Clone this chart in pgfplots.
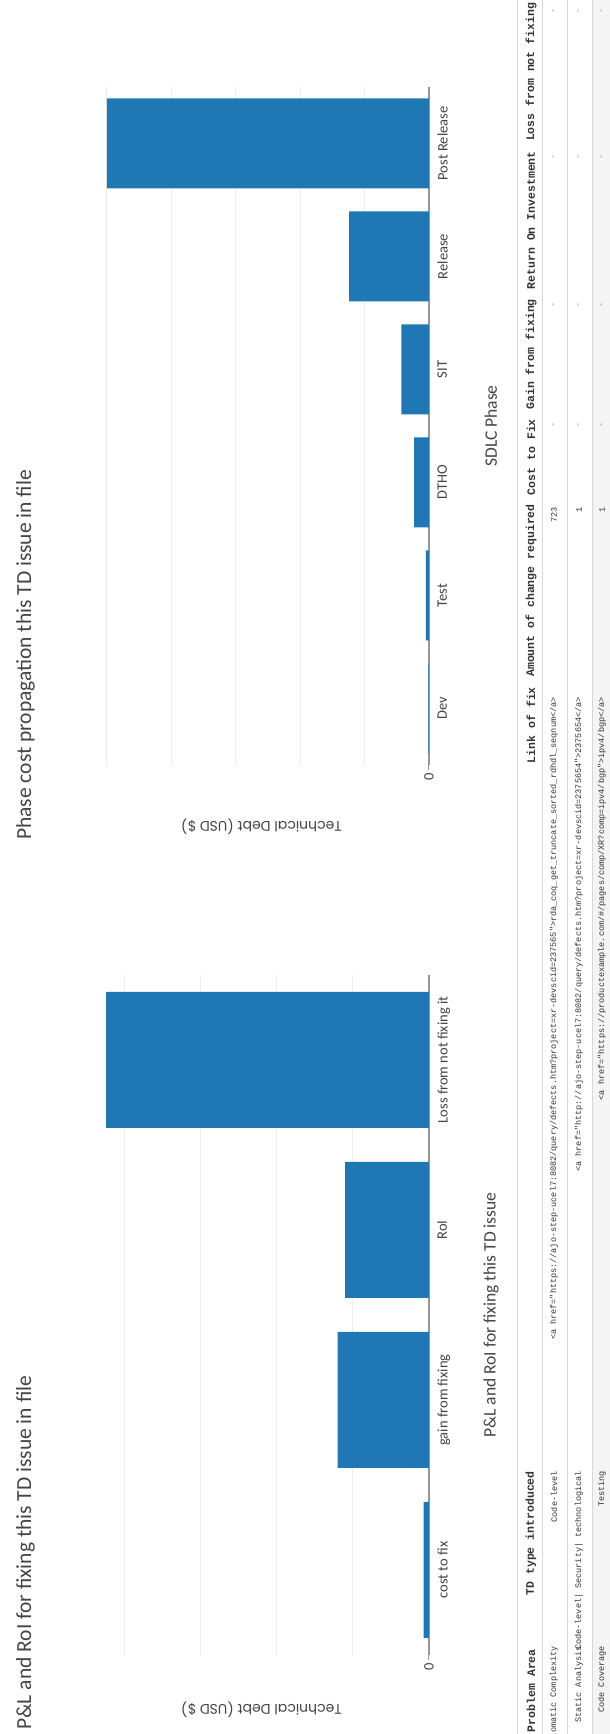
\documentclass[border=0pt]{standalone}
\usepackage{pgfplots}
\pgfplotsset{compat=1.18}
\usepackage{graphicx}
\usepackage{fontspec}
\setmainfont{Carlito}
\newfontfamily\labfont{Poppins}
\newfontfamily\tabfont{Liberation Mono}
\definecolor{barblue}{RGB}{31,119,180}
\definecolor{txtgray}{RGB}{68,68,68}
\definecolor{gridgray}{RGB}{236,236,236}
\definecolor{zerogray}{RGB}{150,150,150}
\definecolor{linegray}{RGB}{215,215,215}
\definecolor{rowgray}{RGB}{244,244,244}
\newcommand{\tickfont}{\fontsize{14.5}{17}\selectfont}
\newcommand{\xlabfont}{\fontsize{17.5}{20}\selectfont}
\newcommand{\titfont}{\fontsize{21.5}{25}\selectfont}
\newcommand{\ylabfont}{\labfont\fontsize{14}{16}\selectfont}
\newcommand{\thfont}{\tabfont\bfseries\fontsize{11.5}{13}\selectfont}
\newcommand{\tdfont}{\tabfont\fontsize{8.5}{10}\selectfont}
\pgfplotsset{tdbar/.style={
  scale only axis, height=335pt, ymin=0,
  ybar,
  axis x line*=bottom, axis y line*=left,
  x axis line style={-, draw=zerogray, line width=1.2pt},
  y axis line style={draw=none},
  xtick style={draw=none},
  ytick={0}, yticklabels={0},
  ytick style={draw=zerogray, line width=1pt},
  tick align=outside, major tick length=5pt,
  extra y tick labels={},
  extra y tick style={grid=major, major tick length=0pt},
  major grid style={draw=gridgray, line width=1pt},
  tick label style={font=\tickfont, text=txtgray},
  xlabel style={font=\xlabfont, text=txtgray, anchor=center},
  ylabel style={font=\ylabfont, text=txtgray, anchor=center},
}}
\begin{document}
\rotatebox{90}{%
\begin{tikzpicture}[x=1pt,y=1pt]
\useasboundingbox (0,0) rectangle (1734,610);
\fill[white] (0,0) rectangle (1734,610);
% ---------- P&L chart
\begin{axis}[tdbar,
  at={(79pt,181pt)}, anchor=south west, width=680pt,
  xmin=-0.5, xmax=3.5, ymax=4.4, bar width=136pt,
  xtick={0,1,2,3},
  xticklabels={cost to fix, gain from fixing, RoI, Loss from not fixing it},
  extra y ticks={1,2,3,4},
  xlabel={P\&L and RoI for fixing this TD issue},
  xlabel style={at={(axis description cs:0.5,-0.185)}},
  ylabel={Technical Debt (USD \$)},
  ylabel style={at={(axis description cs:-0.081,0.5)}},
]
\addplot[fill=barblue, draw=none] coordinates {(0,0.07) (1,1.20) (2,1.10) (3,4.24)};
\end{axis}
% ---------- Phase chart
\begin{axis}[tdbar,
  at={(969pt,181pt)}, anchor=south west, width=678pt,
  xmin=-0.5, xmax=5.5, ymax=5.2, bar width=90pt,
  xtick={0,1,2,3,4,5},
  xticklabels={Dev, Test, DTHO, SIT, Release, Post Release},
  extra y ticks={1,2,3,4,5},
  xlabel={SDLC Phase},
  xlabel style={at={(axis description cs:0.5,-0.185)}},
  ylabel={Technical Debt (USD \$)},
  ylabel style={at={(axis description cs:-0.0914,0.5)}},
]
\addplot[fill=barblue, draw=none] coordinates {(0,0.01) (1,0.05) (2,0.23) (3,0.43) (4,1.24) (5,5.0)};
\end{axis}
% ---------- chart titles
\node[anchor=west, inner sep=0pt, font=\titfont, text=txtgray] at (4,584.5) {P\&L and RoI for fixing this TD issue in file};
\node[anchor=west, inner sep=0pt, font=\titfont, text=txtgray] at (894,584.5) {Phase cost propagation this TD issue in file};
% ---------- table
\fill[rowgray] (0,0) rectangle (1734,18);
\draw[linegray, line width=1pt] (0,92) -- (1734,92);
\draw[linegray, line width=0.6pt] (0,68) -- (1734,68);
\draw[linegray, line width=0.6pt] (0,43) -- (1734,43);
\draw[linegray, line width=0.6pt] (0,18) -- (1734,18);
\begin{scope}[every node/.style={anchor=east, inner sep=0pt, text=black!80}]
\node[font=\thfont] at (85,79) {Problem Area};
\node[font=\thfont] at (263,79) {TD type introduced};
\node[font=\thfont] at (1047,79) {Link of fix};
\node[font=\thfont] at (1230,79) {Amount of change required};
\node[font=\thfont] at (1315,79) {Cost to Fix};
\node[font=\thfont] at (1435,79) {Gain from fixing};
\node[font=\thfont] at (1583,79) {Return On Investment};
\node[font=\thfont] at (1752,79) {Loss from not fixing it};
% row 1
\node[font=\tdfont] at (88,56) {Cyclomatic Complexity};
\node[font=\tdfont] at (263,56) {Code-level};
\node[font=\tdfont] at (1037,56) {<a href="https://ajo-step-ucel7:8082/query/defects.htm?project=xr-devscid=237565">rda\_coq\_get\_truncate\_sorted\_rdhdl\_seqnum</a>};
\node[font=\tdfont] at (1227,56) {723};
% row 2
\node[font=\tdfont] at (88,31) {Static Analysis};
\node[font=\tdfont] at (263,31) {Code-level| Security| technological};
\node[font=\tdfont] at (1037,31) {<a href="http://ajo-step-ucel7:8082/query/defects.htm?project=xr-devscid=2375654">2375654</a>};
\node[font=\tdfont] at (1227,31) {1};
% row 3
\node[font=\tdfont] at (88,8) {Code Coverage};
\node[font=\tdfont] at (263,8) {Testing};
\node[font=\tdfont] at (1037,8) {<a href="https://productexample.com/\#/pages/comp/XR?comp=ipv4/bgp">ipv4/bgp</a>};
\node[font=\tdfont] at (1227,8) {1};
\foreach \yy in {56,31,8} {
  \node[font=\tdfont, text=black!45] at (1312,\yy) {-};
  \node[font=\tdfont, text=black!45] at (1432,\yy) {-};
  \node[font=\tdfont, text=black!45] at (1580,\yy) {-};
  \node[font=\tdfont, text=black!45] at (1726,\yy) {-};
}
\end{scope}
\end{tikzpicture}}
\end{document}
